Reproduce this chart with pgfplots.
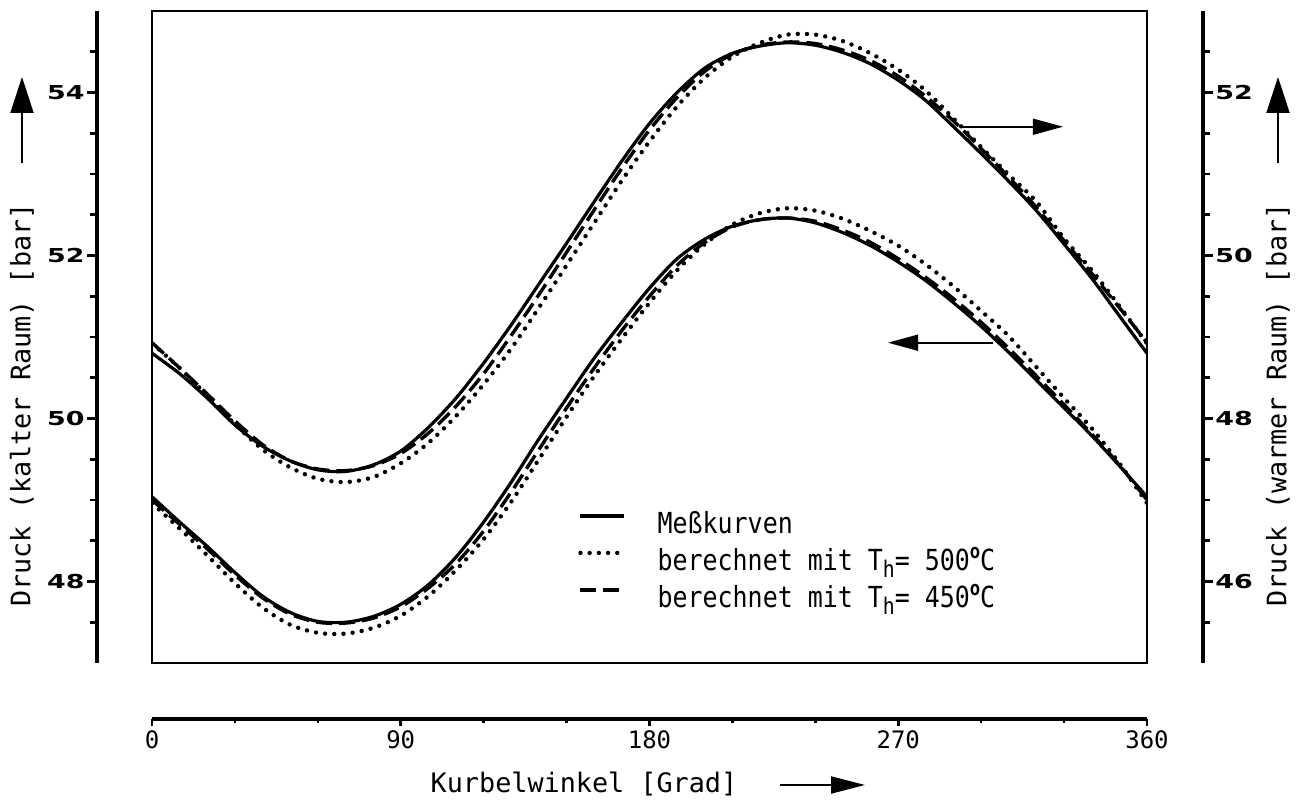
\documentclass[border=0pt]{standalone}
\usepackage{fontspec}
\usepackage{pgfplots}
\pgfplotsset{compat=1.18}
\usepackage{pgfplotstable}
\usetikzlibrary{arrows.meta}

\newfontfamily\labfont{DejaVu Sans Mono}
\newfontfamily\legfont{DejaVu Sans Mono}[FakeStretch=0.86]
\newfontfamily\numfont{DejaVu Sans}[FakeStretch=1.4]

% Druck im kalten Raum (linke Skala)
\pgfplotstableread{
phi  mess   b500   b450
0    49.04  48.96  49.00
10   48.73  48.65  48.70
20   48.43  48.32  48.40
30   48.11  47.98  48.08
40   47.82  47.68  47.80
50   47.62  47.47  47.60
60   47.51  47.37  47.50
70   47.50  47.36  47.49
80   47.57  47.43  47.55
90   47.72  47.58  47.69
100  47.96  47.82  47.92
110  48.30  48.14  48.22
120  48.73  48.52  48.62
130  49.22  48.98  49.10
140  49.75  49.50  49.62
150  50.25  50.02  50.13
160  50.74  50.52  50.62
170  51.18  50.98  51.08
180  51.60  51.42  51.50
190  51.96  51.82  51.88
200  52.20  52.14  52.16
210  52.36  52.38  52.35
220  52.44  52.52  52.44
230  52.46  52.58  52.46
240  52.40  52.55  52.42
250  52.28  52.45  52.31
260  52.12  52.30  52.16
270  51.92  52.12  51.96
280  51.69  51.89  51.73
290  51.42  51.62  51.47
300  51.13  51.32  51.18
310  50.81  51.01  50.86
320  50.47  50.63  50.52
330  50.13  50.25  50.17
340  49.79  49.88  49.81
350  49.42  49.45  49.43
360  49.04  48.96  49.00
}\kalt

% Druck im warmen Raum (rechte Skala)
\pgfplotstableread{
phi  mess   b500   b450
0    48.80  48.92  48.93
10   48.55  48.62  48.62
20   48.25  48.28  48.30
30   47.92  47.93  47.97
40   47.66  47.62  47.68
50   47.48  47.40  47.48
60   47.37  47.26  47.38
70   47.35  47.22  47.36
80   47.43  47.28  47.42
90   47.60  47.45  47.57
100  47.89  47.70  47.82
110  48.25  48.03  48.15
120  48.68  48.42  48.55
130  49.15  48.86  49.02
140  49.65  49.36  49.52
150  50.15  49.88  50.04
160  50.66  50.40  50.56
170  51.16  50.92  51.07
180  51.62  51.40  51.54
190  52.00  51.83  51.94
200  52.30  52.18  52.26
210  52.48  52.44  52.47
220  52.57  52.61  52.58
230  52.61  52.71  52.62
240  52.58  52.71  52.60
250  52.49  52.63  52.52
260  52.35  52.48  52.39
270  52.15  52.28  52.20
280  51.90  52.02  51.95
290  51.58  51.68  51.65
300  51.25  51.33  51.31
310  50.91  50.99  50.96
320  50.55  50.66  50.59
330  50.14  50.21  50.18
340  49.72  49.82  49.78
350  49.26  49.38  49.36
360  48.80  48.92  48.93
}\warm

\begin{document}
\begin{tikzpicture}
\path[use as bounding box] (-76pt,-69pt) rectangle (575pt,331.5pt);
\pgfplotsset{
  plotbox/.style={width=497.5pt, height=326pt, scale only axis, xmin=0, xmax=360},
  mess/.style={black, line width=1.6pt},
  b500/.style={black, line width=2.2pt, line cap=round, dash pattern=on 0pt off 4.6pt},
  b450/.style={black, line width=1.7pt, dash pattern=on 8pt off 3.5pt},
  scale/.style={
    tick align=outside, tick style={black, line width=1.3pt},
    major tick length=5pt, minor tick length=3.5pt,
    /pgf/number format/assume math mode=true,
  },
}

% Diagrammfeld mit den Kurven des kalten Raums
\begin{axis}[plotbox, ymin=47, ymax=55, ticks=none,
  axis line style={line width=1pt},
  legend cell align=left,
  legend style={at={(axis description cs:0.428,0.2325)}, anchor=north west,
    draw=none, fill=none, inner sep=0pt, row sep=4pt, column sep=15.5pt,
    font=\legfont\fontsize{14.5}{17}\selectfont,
    nodes={inner sep=0pt, text height=11pt, text depth=3.5pt}},
  legend image code/.code={\draw[#1] (0pt,5.2pt) -- (22pt,5.2pt);},
]
\addplot[mess, smooth] table[x=phi, y=mess] {\kalt};
\addlegendentry{Meßkurven}
\addplot[b500, smooth] table[x=phi, y=b500] {\kalt};
\addlegendentry{berechnet mit T\raisebox{-0.45ex}{\fontsize{11.5}{11.5}\selectfont h}= 500\raisebox{0.8ex}{\fontsize{10}{10}\selectfont\bfseries o}C}
\addplot[b450, smooth] table[x=phi, y=b450] {\kalt};
\addlegendentry{berechnet mit T\raisebox{-0.45ex}{\fontsize{11.5}{11.5}\selectfont h}= 450\raisebox{0.8ex}{\fontsize{10}{10}\selectfont\bfseries o}C}
\draw[-{Triangle[length=15pt,width=8pt]}, line width=0.8pt]
  (axis cs:304.3,50.93) -- (axis cs:266.3,50.93);
\draw[-{Triangle[length=15pt,width=8pt]}, line width=0.8pt]
  (axis cs:292.3,53.58) -- (axis cs:329.6,53.58);
\end{axis}

% Kurven des warmen Raums
\begin{axis}[plotbox, ymin=45, ymax=53, axis lines=none]
\addplot[mess, smooth] table[x=phi, y=mess] {\warm};
\addplot[b500, smooth] table[x=phi, y=b500] {\warm};
\addplot[b450, smooth] table[x=phi, y=b450] {\warm};
\end{axis}

% abgesetzte linke Skala
\begin{axis}[plotbox, scale, at={(-27.5pt,0pt)}, ymin=47, ymax=55,
  hide x axis, axis y line*=left, axis line style={line width=2pt},
  ytick={48,50,52,54}, minor ytick={47.5,48,...,54.5},
  yticklabel style={font=\numfont\bfseries\fontsize{9.6}{10}\selectfont, inner sep=1pt}]
\end{axis}

% abgesetzte rechte Skala
\begin{axis}[plotbox, scale, at={(28pt,0pt)}, ymin=45, ymax=53,
  hide x axis, axis y line*=right, axis line style={line width=2pt},
  ytick={46,48,50,52}, minor ytick={45.5,46,...,52.5},
  yticklabel style={font=\numfont\bfseries\fontsize{9.6}{10}\selectfont, inner sep=1pt}]
\end{axis}

% abgesetzte Winkelachse
\begin{axis}[plotbox, scale, at={(0pt,-28pt)}, ymin=0, ymax=1,
  hide y axis, axis x line*=bottom, axis line style={line width=2pt},
  major tick length=3.5pt, minor tick length=2pt,
  xtick={0,90,180,270,360}, minor xtick={30,60,...,330},
  xticklabel style={font=\labfont\fontsize{12}{14}\selectfont, inner sep=2pt}]
\end{axis}

% Achsenbeschriftungen
\node[rotate=90, font=\labfont\fontsize{13.4}{16}\selectfont] at (-65pt,129pt) {Druck (kalter Raum) [bar]};
\draw[-{Triangle[length=18pt,width=11.5pt]}, line width=1pt] (-65pt,250pt) -- (-65pt,293pt);
\node[rotate=90, font=\labfont\fontsize{13.4}{16}\selectfont] at (563pt,129pt) {Druck (warmer Raum) [bar]};
\draw[-{Triangle[length=18pt,width=11.5pt]}, line width=1pt] (563pt,250pt) -- (563pt,293pt);
\node[anchor=base, font=\labfont\fontsize{13.4}{16}\selectfont] at (216pt,-65pt) {Kurbelwinkel [Grad]};
\draw[-{Triangle[length=17pt,width=8.5pt]}, line width=1pt] (314pt,-61pt) -- (356.5pt,-61pt);
\end{tikzpicture}
\end{document}
